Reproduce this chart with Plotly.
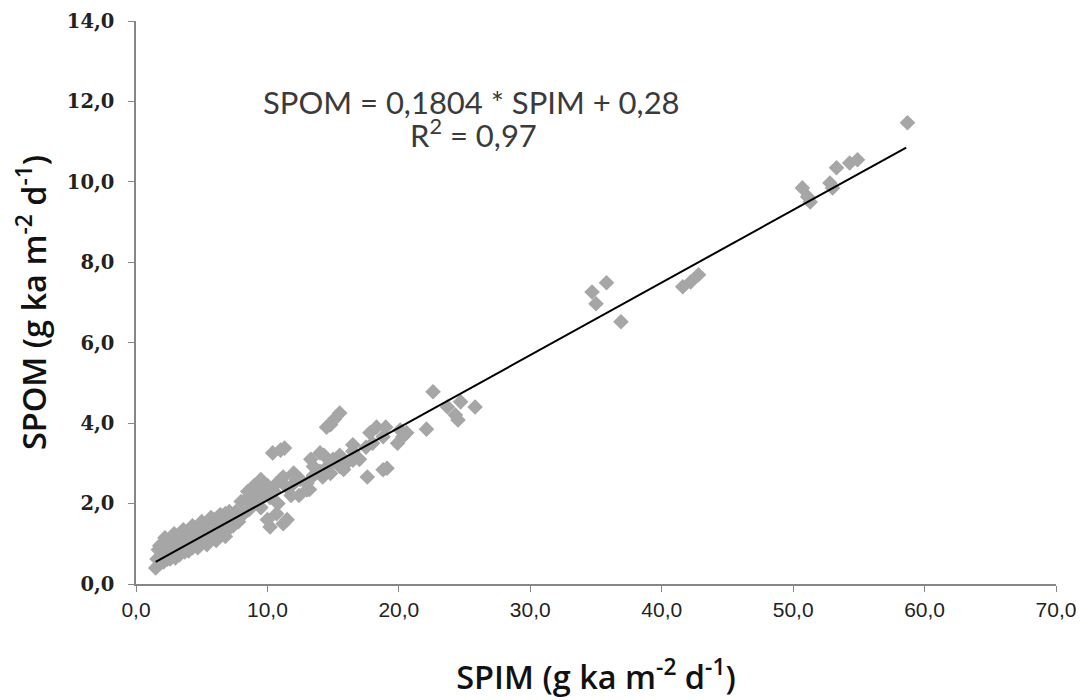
import plotly.graph_objects as go

spim = [
    1.5, 1.6, 1.7, 1.8, 2.0, 2.1, 2.2, 2.3, 2.4, 2.5, 2.6, 2.7, 2.8, 2.9, 3.0,
    3.1, 3.2, 3.3, 3.4, 3.5, 3.6, 3.7, 3.8, 3.9, 4.0, 4.1, 4.2, 4.3, 4.4, 4.5,
    4.6, 4.7, 4.8, 4.9, 5.0, 5.1, 5.2, 5.3, 5.4, 5.5, 5.6, 5.7, 5.8, 5.9, 6.0,
    6.1, 6.2, 6.3, 6.4, 6.5, 6.6, 6.7, 6.8, 6.9, 7.0, 7.2, 7.4, 7.6, 7.8, 8.0,
    8.2, 8.4, 8.6, 8.8, 9.0, 9.2, 9.4, 9.6, 9.8, 10.0, 10.2,
    2.2, 2.9, 3.6, 4.3, 5.0, 5.7, 6.4, 7.1, 1.9, 2.6, 3.3, 4.0, 4.7, 5.4, 6.1, 6.8,
    8.5, 9.0, 9.5, 9.7, 10.7, 11.2, 12.2, 9.5, 10.8, 11.8,
    10.2, 10.0, 10.7, 11.5, 11.2, 10.4, 11.0, 11.3,
    10.5, 11.0, 11.5, 12.0, 12.5, 13.0, 13.5, 14.0, 14.5, 15.0, 15.5, 16.0,
    16.5, 17.0, 17.5, 18.0, 13.3, 14.3, 12.4, 13.2, 14.8, 15.8,
    12.0, 13.0, 13.5, 14.2, 14.8, 15.5, 16.5, 17.6, 14.0, 16.5,
    15.5, 14.8, 15.1, 14.5, 17.8, 18.3, 18.8, 18.8, 19.9, 20.6, 20.1, 20.3,
    19.0, 19.1,
    22.6, 22.1, 23.7, 24.3, 24.7, 25.8, 24.5,
    34.7, 35.8, 35.0, 36.9, 41.6, 42.2, 42.8,
    50.7, 51.1, 51.3, 52.8, 53.0, 53.3, 54.3, 54.9, 58.7,
]
spom = [
    0.40, 0.62, 0.85, 0.95, 0.70, 0.55, 1.00, 0.80, 0.62, 1.05, 0.90, 0.70, 1.10, 0.85, 0.65,
    1.15, 1.00, 0.75, 1.25, 0.90, 1.10, 0.80, 1.20, 1.00, 0.85, 1.30, 1.10, 0.90, 1.35, 1.15,
    0.95, 1.40, 1.20, 1.00, 1.45, 1.25, 1.05, 1.50, 1.30, 1.10, 1.55, 1.35, 1.15, 1.60, 1.40,
    1.20, 1.65, 1.45, 1.25, 1.70, 1.50, 1.30, 1.75, 1.55, 1.35, 1.65, 1.45, 1.80, 1.55, 2.05,
    1.75, 2.10, 1.85, 2.25, 2.00, 2.30, 2.10, 2.35, 2.20, 2.45, 2.15,
    1.15, 1.25, 1.35, 1.45, 1.55, 1.65, 1.72, 1.80, 0.55, 0.62, 0.72, 0.82, 0.90, 0.98, 1.08, 1.18,
    2.30, 2.45, 2.60, 2.26, 2.50, 2.66, 2.60, 1.90, 2.00, 2.20,
    1.42, 1.60, 1.75, 1.60, 1.50, 3.26, 3.33, 3.38,
    2.30, 2.60, 2.40, 2.50, 2.60, 2.50, 2.70, 2.80, 2.90, 3.10, 3.20, 3.00,
    3.30, 3.10, 3.40, 3.50, 3.10, 3.20, 2.20, 2.35, 2.75, 2.85,
    2.76, 2.34, 2.92, 2.66, 3.00, 2.92, 3.08, 2.66, 3.26, 3.46,
    4.25, 3.96, 4.10, 3.90, 3.76, 3.90, 3.66, 2.84, 3.50, 3.76, 3.83, 3.66,
    3.90, 2.88,
    4.78, 3.85, 4.40, 4.20, 4.53, 4.40, 4.08,
    7.26, 7.49, 6.97, 6.52, 7.39, 7.51, 7.69,
    9.85, 9.63, 9.50, 9.97, 9.85, 10.35, 10.47, 10.55, 11.47,
]

# regression line endpoints
fit_x = [1.5, 58.6]
slope = 0.1804
intercept = 0.28
fit_y = [slope * v + intercept for v in fit_x]

fig = go.Figure()
fig.add_trace(go.Scatter(
    x=spim, y=spom, mode="markers",
    marker=dict(symbol="diamond", size=12, color="#a6a6a6", line=dict(width=0)),
    hoverinfo="skip"))
fig.add_trace(go.Scatter(
    x=fit_x, y=fit_y, mode="lines",
    line=dict(color="black", width=2),
    hoverinfo="skip"))

eq_font = dict(family="Lato, Open Sans, sans-serif", size=31, color="#3a3a3a")
fig.add_annotation(x=25.5, y=11.98, xref="x", yref="y",
                   text="SPOM = 0,1804 * SPIM + 0,28",
                   showarrow=False, font=eq_font)
fig.add_annotation(x=25.7, y=11.2, xref="x", yref="y",
                   text="R<sup>2</sup> = 0,97",
                   showarrow=False, font=eq_font)

title_font = dict(family="Open Sans, sans-serif", size=32.5, color="#111111", weight=600)

# page body adds an 8px offset, so margins are set 8px short on the left/top
fig.update_layout(
    width=1084, height=700,
    margin=dict(l=128, r=36, t=13, b=124),
    paper_bgcolor="white", plot_bgcolor="white",
    separators=",.",
    showlegend=False,
    xaxis=dict(
        range=[0, 70], dtick=10, tickformat=".1f", automargin=False,
        showgrid=False, zeroline=False,
        showline=True, linecolor="#868686", linewidth=1.5,
        ticks="outside", ticklen=6, tickcolor="#868686",
        tickfont=dict(family="Liberation Sans Narrow, sans-serif", size=21, color="#222222"),
        title=dict(text="SPIM (g ka m<sup>-2</sup> d<sup>-1</sup>)", standoff=46,
                   font=title_font),
    ),
    yaxis=dict(
        range=[0, 14], dtick=2, tickformat=".1f", automargin=False,
        showgrid=False, zeroline=False,
        showline=True, linecolor="#868686", linewidth=1.5,
        ticks="outside", ticklen=6, tickcolor="#868686",
        ticklabelstandoff=10,
        tickfont=dict(family="DejaVu Serif, serif", size=19.5, color="#222222", weight="bold"),
        title=dict(text="SPOM (g ka m<sup>-2</sup> d<sup>-1</sup>)", standoff=19,
                   font=title_font),
    ),
)

fig.write_html("out.html")
